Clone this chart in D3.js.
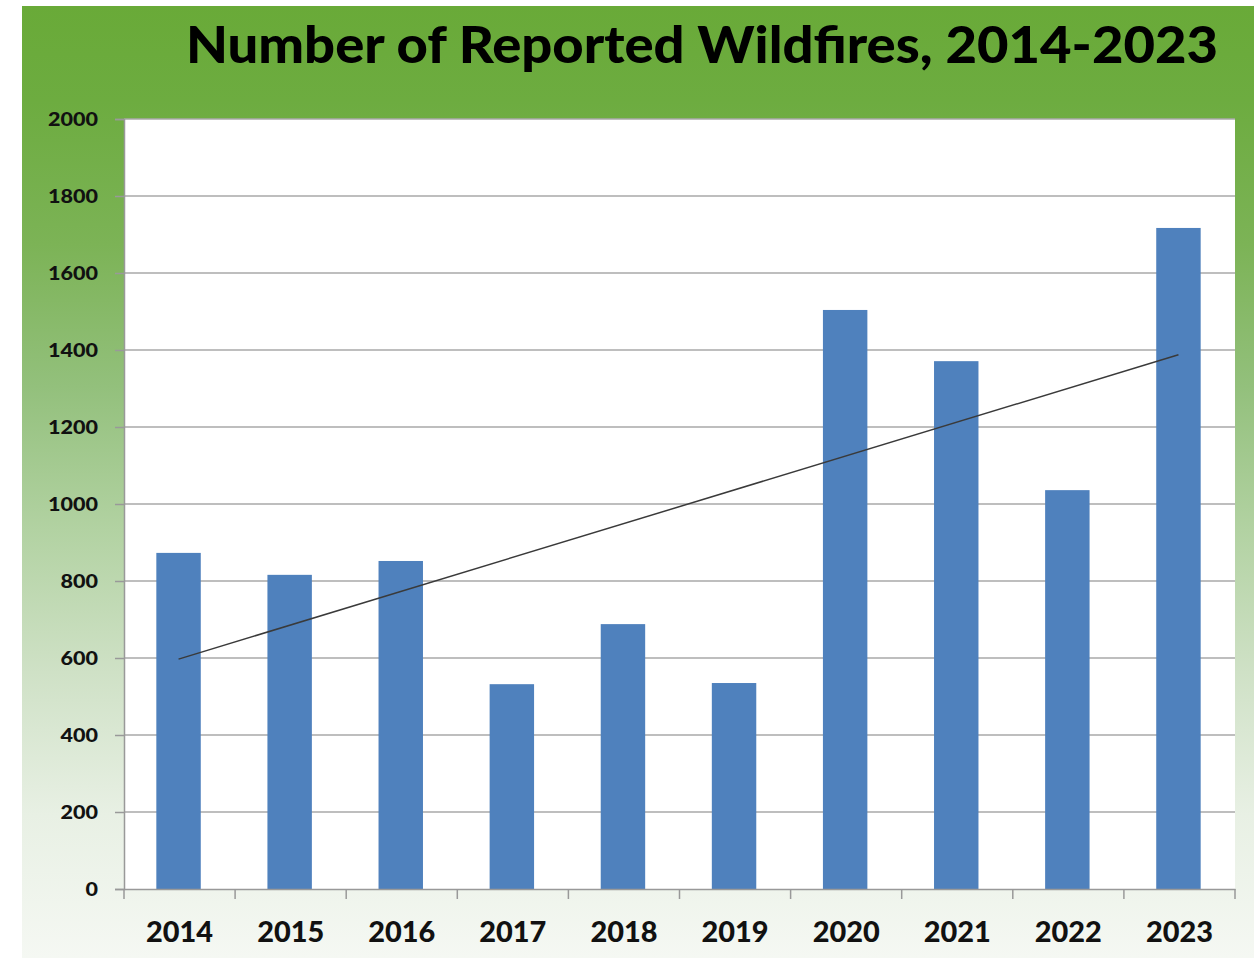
<!DOCTYPE html>
<html><head><meta charset="utf-8">
<script src="https://cdn.jsdelivr.net/npm/d3@7/dist/d3.min.js"></script>
<style>html,body{margin:0;padding:0;background:#fff;}svg{display:block;}</style>
</head><body>
<script>
const years = ["2014","2015","2016","2017","2018","2019","2020","2021","2022","2023"];
const fires = [873, 816, 852, 532, 688, 535, 1504, 1371, 1036, 1717];
const yTicks = [0, 200, 400, 600, 800, 1000, 1200, 1400, 1600, 1800, 2000];
const title = "Number of Reported Wildfires, 2014-2023";

const W = 1260, H = 961;
const panel = {x: 22, y: 6, w: 1232, h: 952};
const plot = {left: 124, right: 1235, top: 119, bottom: 889};
const font = "Lato, 'Open Sans', sans-serif";

const svg = d3.select("body").append("svg").attr("width", W).attr("height", H);
const defs = svg.append("defs");
const grad = defs.append("linearGradient").attr("id","bg").attr("x1",0).attr("y1",0).attr("x2",0).attr("y2",1);
[[0,"#69aa38"],[0.1,"#6dac40"],[0.25,"#7cb356"],[0.4,"#93c07c"],[0.55,"#b2d2a2"],[0.7,"#cfe1c6"],[0.85,"#e8f0e4"],[1,"#f5f8f3"]]
  .forEach(([o,c]) => grad.append("stop").attr("offset",o).attr("stop-color",c));

svg.append("rect").attr("x",panel.x).attr("y",panel.y).attr("width",panel.w).attr("height",panel.h).attr("fill","url(#bg)");

svg.append("text").attr("x", 702).attr("y", 63).attr("text-anchor","middle")
  .attr("font-family", font).attr("font-weight", 900).attr("font-size", 52)
  .attr("textLength", 1032).attr("lengthAdjust","spacingAndGlyphs")
  .attr("fill","#000").text(title);

const x = d3.scaleBand().domain(years).range([plot.left, plot.right]).paddingInner(0.6).paddingOuter(0.3);
const y = d3.scaleLinear().domain([0, 2000]).range([plot.bottom, plot.top]);

svg.append("rect").attr("x",plot.left).attr("y",plot.top).attr("width",plot.right-plot.left).attr("height",plot.bottom-plot.top).attr("fill","#fff");

// gridlines
svg.append("g").selectAll("line").data(yTicks.filter(d=>d>0)).join("line")
  .attr("x1", plot.left).attr("x2", plot.right)
  .attr("y1", d=>y(d)).attr("y2", d=>y(d))
  .attr("stroke","#a8a8a8").attr("stroke-width",1.5);

// bars
svg.append("g").selectAll("rect").data(years).join("rect")
  .attr("x", d=>x(d) - 1).attr("width", x.bandwidth())
  .attr("y", (d,i)=>y(fires[i])).attr("height", (d,i)=>y(0)-y(fires[i]))
  .attr("fill","#4f81bd");

// linear trendline
const n = fires.length;
const xm = d3.mean(d3.range(n)), ym = d3.mean(fires);
const slope = d3.sum(d3.range(n), i => (i-xm)*(fires[i]-ym)) / d3.sum(d3.range(n), i => (i-xm)**2);
const icpt = ym - slope*xm;
svg.append("line")
  .attr("x1", x(years[0]) + x.bandwidth()/2 - 1).attr("y1", y(icpt))
  .attr("x2", x(years[n-1]) + x.bandwidth()/2 - 1).attr("y2", y(icpt + slope*(n-1)))
  .attr("stroke","#3a3a3a").attr("stroke-width",1.5);

// y axis
const yAxis = svg.append("g").attr("transform",`translate(${plot.left},0)`)
  .call(d3.axisLeft(y).tickValues(yTicks).tickSize(9).tickPadding(17).tickFormat(d3.format("d")));
yAxis.select(".domain").attr("stroke","#999").attr("stroke-width",1.5);
yAxis.selectAll(".tick line").attr("stroke","#999").attr("stroke-width",1.5);
yAxis.selectAll("text").attr("font-family",font).attr("font-weight",900).attr("font-size",19).attr("fill","#111")
  .attr("textLength", d => String(d).length*12.5).attr("lengthAdjust","spacingAndGlyphs");

// x axis
const xAxis = svg.append("g").attr("transform",`translate(0,${plot.bottom})`)
  .call(d3.axisBottom(x).tickSize(0).tickPadding(32));
xAxis.select(".domain").attr("stroke","#999").attr("stroke-width",1.5);
xAxis.selectAll("text").attr("font-family",font).attr("font-weight",900).attr("font-size",29).attr("fill","#111")
  .attr("textLength", 67).attr("lengthAdjust","spacingAndGlyphs");
const bounds = d3.range(n+1).map(i => plot.left + i*(plot.right-plot.left)/n);
xAxis.append("g").selectAll("line").data(bounds).join("line")
  .attr("x1",d=>d).attr("x2",d=>d).attr("y1",0).attr("y2",10)
  .attr("stroke","#999").attr("stroke-width",1.5);
</script>
</body></html>
